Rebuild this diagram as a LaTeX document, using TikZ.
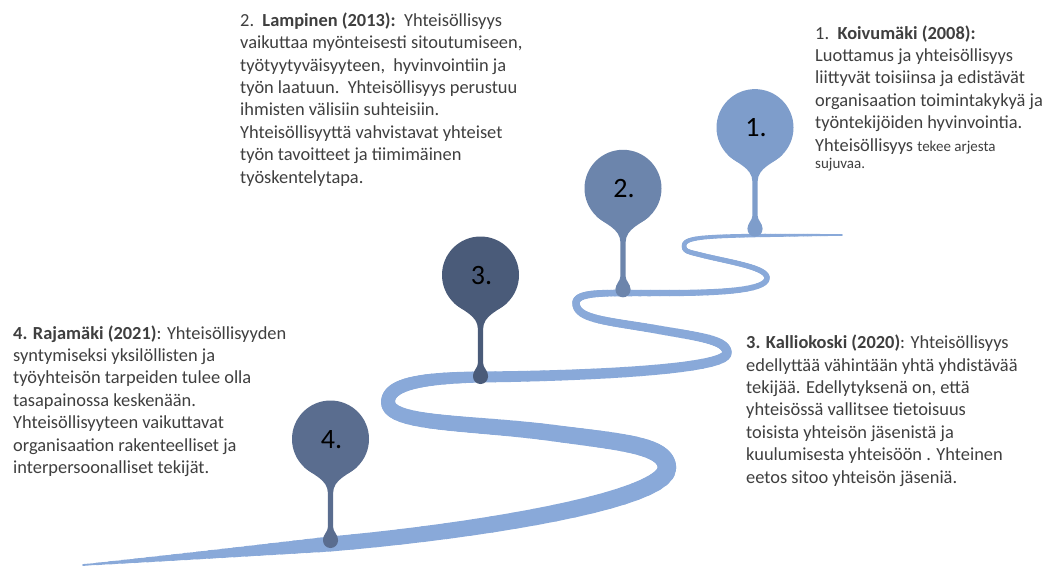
\documentclass[tikz,border=0pt]{standalone}
\usepackage{fontspec}
\setmainfont{Carlito}

\definecolor{roadblue}{HTML}{89A9D9}
\definecolor{pinone}{HTML}{7E9DCB}
\definecolor{pintwo}{HTML}{6C85AC}
\definecolor{pinthree}{HTML}{4A5B79}
\definecolor{pinfour}{HTML}{5A6D8F}
\definecolor{bodytext}{HTML}{3F3F3F}

% One piece of the winding road: a Bezier curve drawn in short slices
% whose width runs from #5 to #6, so that the road tapers smoothly.
\newcommand\roadpiece[6]{%
  \foreach \k in {1,...,20}{%
    \pgfmathsetmacro\ta{(\k-1)/20}%
    \pgfmathsetmacro\tb{\k/20}%
    \pgfmathsetmacro\lw{#5+(#6-#5)*(\k-0.5)/20}%
    \path #1 .. controls #2 and #3 .. #4
      coordinate[pos=\ta] (rp-a) coordinate[pos=\tb] (rp-b);
    \draw[road, line width=\lw pt] (rp-a) -- (rp-b);
  }%
}

% A map pin: round head at (#1,#2), thin stem, small drop on the road.
\newcommand\droppin[3]{%
  \fill[#3] (#1,#2) circle[radius=38.5];
  \fill[#3] (#1,#2+101.5) circle[radius=7.5];
  \fill[#3] (#1-27,#2+27.5) .. controls (#1-19,#2+35.5) and (#1-2.6,#2+40) .. (#1-2.6,#2+54)
     -- (#1-2.6,#2+88) .. controls (#1-2.6,#2+93) and (#1-7.5,#2+95) .. (#1-7.5,#2+101.5)
     -- (#1+7.5,#2+101.5) .. controls (#1+7.5,#2+95) and (#1+2.6,#2+93) .. (#1+2.6,#2+88)
     -- (#1+2.6,#2+54) .. controls (#1+2.6,#2+40) and (#1+19,#2+35.5) .. (#1+27,#2+27.5)
     -- cycle;
}

\newcommand\smalltxt{\fontsize{15}{16}\selectfont}

\begin{document}
\begin{tikzpicture}[x=1pt,y=-1pt,
  road/.style={draw=roadblue, line cap=round},
  % notes are placed by the baseline of their last line
  note/.style={anchor=base west, inner sep=0pt, align=left, text=bodytext,
    font=\fontsize{18.4}{22.4}\selectfont},
  pinlabel/.style={font=\fontsize{28}{30}\selectfont, text=black, inner sep=0pt}]

\fill[white] (0,0) rectangle (1057,568);
\useasboundingbox (0,0) rectangle (1057,568);

% the road, from the wide near end up to the thin far end
\roadpiece{(83,565)}{(170,558)}{(250,551)}{(330,544)}{1.5}{15}
\roadpiece{(330,544)}{(480,531)}{(667,500)}{(667,468)}{15}{18.5}
\roadpiece{(667,468)}{(667,445)}{(620,442)}{(553,433)}{18.5}{16.5}
\roadpiece{(553,433)}{(470,422)}{(388,425)}{(388,402)}{16.5}{14}
\roadpiece{(388,402)}{(388,382)}{(430,378)}{(480,377)}{14}{11}
\roadpiece{(480,377)}{(580,376)}{(727,370)}{(727,353)}{11}{9.5}
\roadpiece{(727,353)}{(727,340)}{(700,337)}{(660,330)}{9.5}{8.5}
\roadpiece{(660,330)}{(610,321)}{(576,320)}{(576,303)}{8.5}{7.5}
\roadpiece{(576,303)}{(576,294)}{(595,293)}{(623,293)}{7.5}{6.5}
\roadpiece{(623,293)}{(680,293)}{(767,295)}{(767,278)}{6.5}{5.5}
\roadpiece{(767,278)}{(767,268)}{(735,263)}{(705,256)}{5.5}{5}
\roadpiece{(705,256)}{(690,252)}{(684,252)}{(684,246)}{5}{4.5}
\roadpiece{(684,246)}{(684,238)}{(700,236.5)}{(755,235.5)}{4.5}{3.5}
\roadpiece{(755,235.5)}{(790,235.2)}{(820,235)}{(842,235)}{3.5}{1.5}

% pins along the road
\droppin{755}{127.6}{pinone}
\droppin{623}{188.3}{pintwo}
\droppin{480.5}{275}{pinthree}
\droppin{330.5}{439}{pinfour}

\node[pinlabel] (p1) at (756,128) {1.};
\node[pinlabel] (p2) at (624,189) {2.};
\node[pinlabel] (p3) at (481.5,276) {3.};
\node[pinlabel] (p4) at (331.5,440) {4.};

% the four notes
\node[note] (koivumaki) at (815,168.5) {1.\ \ \textbf{Koivumäki (2008):}\\
Luottamus ja yhteisöllisyys\\
liittyvät toisiinsa ja edistävät\\
organisaation toimintakykyä\ ja\\
työntekijöiden\ hyvinvointia.\\
Yhteisöllisyys {\smalltxt tekee arjesta}\\[-5pt]
{\smalltxt sujuvaa.}};

\node[note] (lampinen) at (240,183) {2.\ \ \textbf{Lampinen (2013):}\ \ Yhteisöllisyys\\
vaikuttaa myönteisesti sitoutumiseen,\\
työtyytyväisyyteen,\ \ hyvinvointiin\ ja\\
työn laatuun.\ \ Yhteisöllisyys perustuu\\
ihmisten välisiin suhteisiin.\\
Yhteisöllisyyttä\ vahvistavat yhteiset\\
työn tavoitteet ja tiimimäinen\\
työskentelytapa.};

\node[note] (kalliokoski) at (746,483) {\textbf{3. Kalliokoski (2020)}: Yhteisöllisyys\\
edellyttää vähintään yhtä yhdistävää\\
tekijää. Edellytyksenä\ on, että\\
yhteisössä vallitsee tietoisuus\\
toisista yhteisön jäsenistä ja\\
kuulumisesta yhteisöön . Yhteinen\\
eetos sitoo yhteisön jäseniä.};

\node[note] (rajamaki) at (13,473.5) {\textbf{4. Rajamäki (2021)}: Yhteisöllisyyden\\
syntymiseksi\ yksilöllisten\ ja\\
työyhteisön tarpeiden tulee olla\\
tasapainossa\ keskenään.\\
Yhteisöllisyyteen\ vaikuttavat\\
organisaation rakenteelliset\ ja\\
interpersoonalliset\ tekijät.};
\end{tikzpicture}
\end{document}
